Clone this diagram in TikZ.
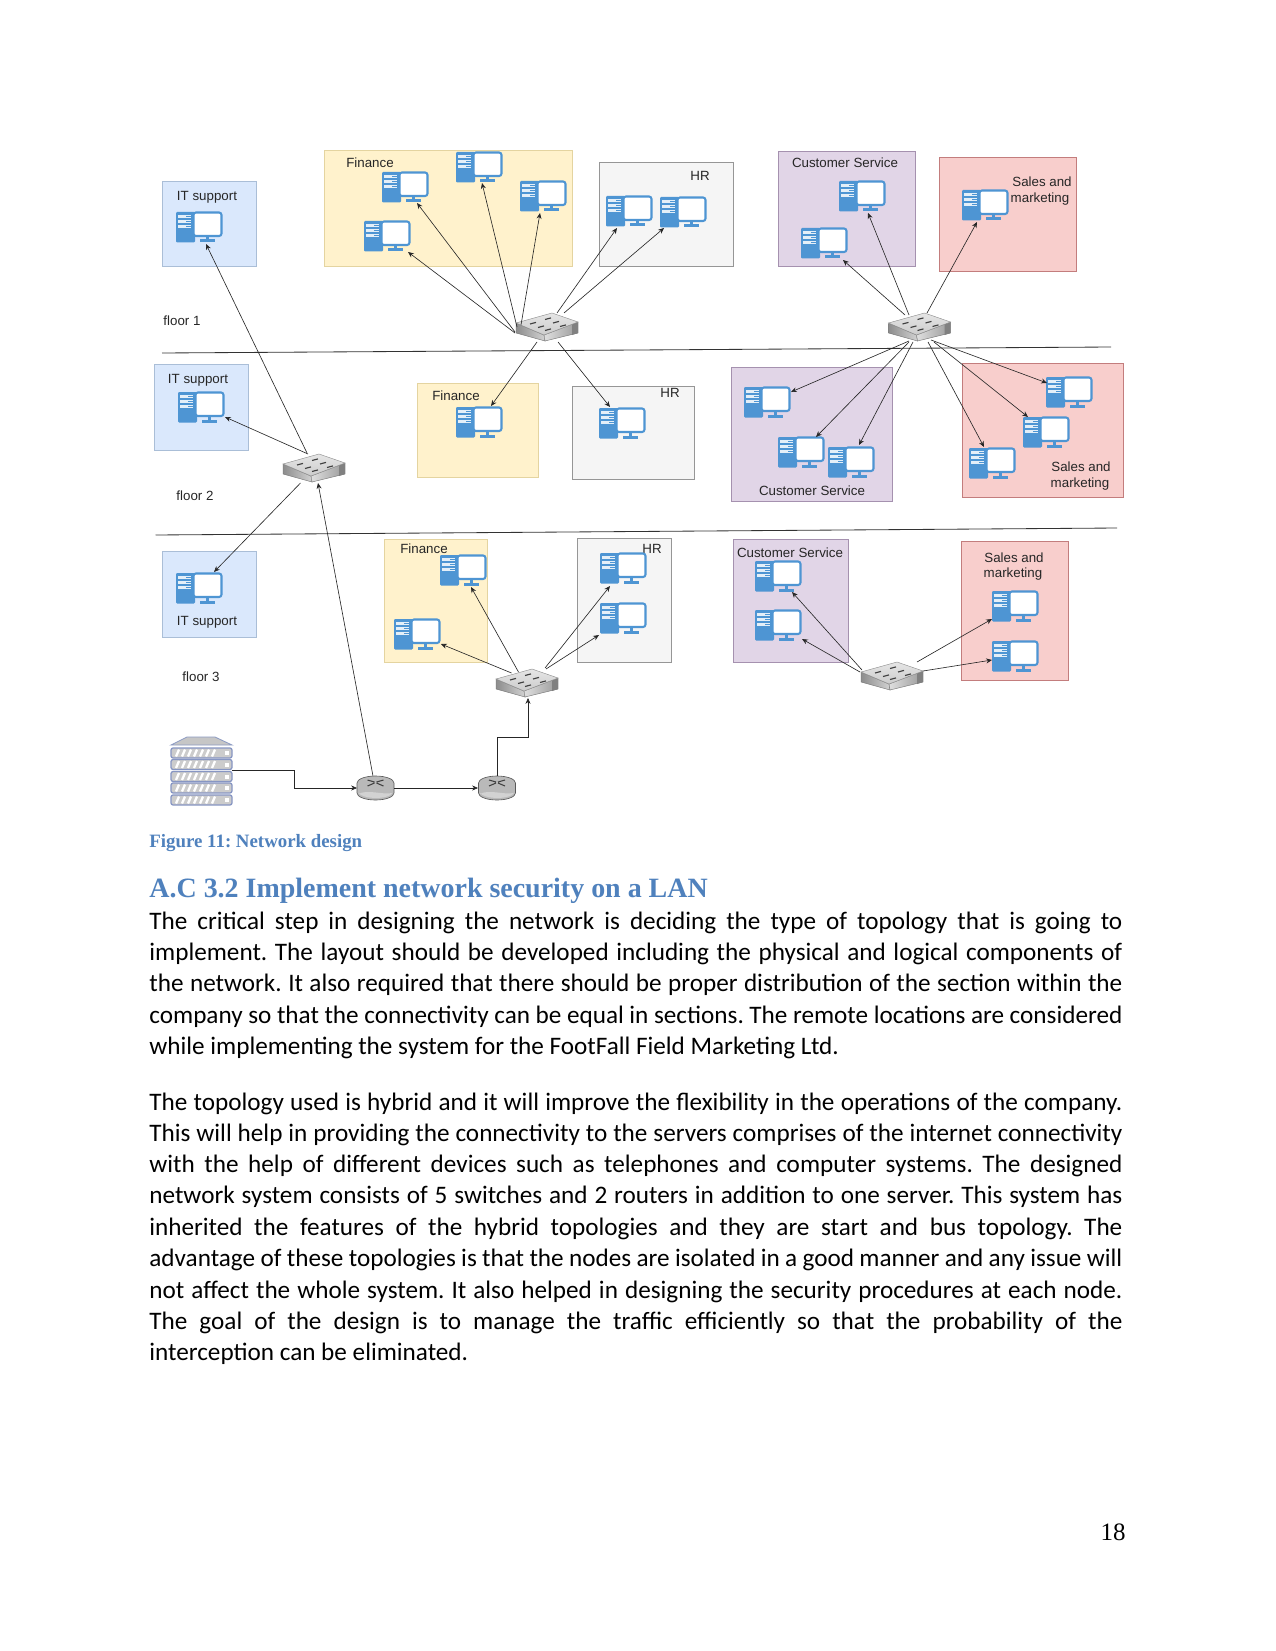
\documentclass[tikz,border=0pt]{standalone}
\usepackage{fontspec}
\setmainfont{Carlito}
\newfontfamily\lblfont{Liberation Sans}
\newfontfamily\serfont{Liberation Serif}
\usetikzlibrary{arrows.meta,calc}
\definecolor{icon}{HTML}{4E95D3}
\definecolor{capblue}{HTML}{4F81BD}
\tikzset{
  zone/.style={line width=0.35pt},
  bluezone/.style={zone,fill={rgb,255:red,218;green,232;blue,252},draw={rgb,255:red,170;green,190;blue,215}},
  yellowzone/.style={zone,fill={rgb,255:red,255;green,242;blue,204},draw={rgb,255:red,228;green,212;blue,160}},
  grayzone/.style={zone,fill={rgb,255:red,245;green,245;blue,245},draw={rgb,255:red,150;green,150;blue,150}},
  purplezone/.style={zone,fill={rgb,255:red,225;green,213;blue,231},draw={rgb,255:red,165;green,145;blue,175}},
  redzone/.style={zone,fill={rgb,255:red,248;green,206;blue,204},draw={rgb,255:red,195;green,125;blue,125}},
  lbl/.style={font=\lblfont\fontsize{6.4}{7.6}\selectfont,inner sep=0pt,text=black!85,align=center,yshift=-0.5pt},
  conn/.style={line width=0.3pt,draw=black!85,-{Stealth[length=2.8pt,width=2.4pt]}},
  floorline/.style={line width=0.4pt,draw=black!80},
  bodyline/.style={anchor=base west,inner sep=0pt,font=\fontsize{12.09}{14}\selectfont,text=black,execute at begin node=\frenchspacing},
  pc/.pic={
    \coordinate (-o) at (0,0);
    \fill[icon,rounded corners=0.5pt] (0,0) rectangle (19,30.5);
    \foreach \yy in {3,8,13}{
      \fill[white!85!icon] (2,\yy) rectangle (15,\yy+3.2);
      \fill[icon] (10,\yy+0.9) rectangle (15,\yy+2.2);
    }
    \draw[icon,fill=white,line width=1pt,rounded corners=1.2pt] (17.5,0.5) rectangle (45.5,24);
    \fill[icon] (30,24) rectangle (33,27.5);
    \fill[icon] (24,27.5) rectangle (39,30.5);
  },
  swt/.pic={
    \coordinate (-o) at (0,0);
    \shade[left color=gray!90,right color=gray!35,draw=black!55,line width=0.2pt] (-31,-4) -- (-3,8) -- (-2,14) -- (-31,6) -- cycle;
    \shade[left color=gray!25,right color=gray!80,draw=black!55,line width=0.2pt] (-3,8) -- (31,-5) -- (31,6) -- (-2,14) -- cycle;
    \fill[black!50] (25,-2.7) -- (31,-5) -- (31,6) -- (25,8) -- cycle;
    \shade[top color=gray!20,bottom color=gray!40,draw=black!45,line width=0.2pt] (-31,-4) -- (5,-14) -- (31,-5) -- (-3,8) -- cycle;
    \foreach \px/\py in {-17/-3,-2/-7.5,-9/0.5,6/-4,-2/3.5,13/-0.5}
      \draw[black!75,line width=0.55pt] (\px,\py) -- ++(6,-1.6);
  },
  router/.pic={
    \coordinate (-o) at (0,0);
    \fill[gray!55,draw=black!65,line width=0.3pt] (-18.5,-5) arc[x radius=18.5,y radius=7,start angle=180,end angle=360] -- (18.5,5) arc[x radius=18.5,y radius=7,start angle=0,end angle=180] -- cycle;
    \fill[gray!35] (-17,6) .. controls (-8,1) and (6,7) .. (17,5) arc[x radius=17,y radius=6,start angle=10,end angle=170] -- cycle;
    \draw[black!75,line width=0.5pt] (-8,-8) -- (-1,-6) (-8,-2) -- (-1,-5) (8,-8) -- (1,-6) (8,-2) -- (1,-5);
  },
  serverstack/.pic={
    \coordinate (-o) at (0,0);
    \fill[gray!45,draw={rgb,255:red,140;green,155;blue,195},line width=0.4pt] (0,8) -- (16,0) -- (44,0) -- (61,8) -- cycle;
    \foreach \ys in {11,22.5,34.5,46,58}{
      \draw[fill=gray!40,draw={rgb,255:red,135;green,150;blue,195},line width=0.6pt,rounded corners=1pt] (0,\ys) rectangle (61,\ys+10);
      \foreach \xs in {5,11,17,23,29,35,41}
        \draw[white,line width=1.1pt] (\xs,\ys+8.5) -- ++(3,-7);
      \fill[white] (54,\ys+3) rectangle (58,\ys+7);
    }
  },
}
\newcommand\lnk[4]{\draw[conn] ($(#1-o)+(#2)$) -- ($(#3-o)+(#4)$);}
\newcommand\just[3]{\node[bodyline] (#1) at (149,#2) {\hbox to 467.04pt{#3}};}
\newcommand\plainl[3]{\node[bodyline] (#1) at (149,#2) {#3};}
\begin{document}
\begin{tikzpicture}[x=0.48pt,y=-0.48pt]
\useasboundingbox (0,0) rectangle (1275,1651);
\fill[white] (0,0) rectangle (1275,1651);
% floor lines
\coordinate (fa) at (162,353); \coordinate (fb) at (1111,347);
\coordinate (fc) at (155.5,535); \coordinate (fd) at (1117,528);
\draw[floorline] (fa) -- (fb);
\draw[floorline] (fc) -- (fd);
% zones
\draw[bluezone]   (162,181) rectangle (256,266);
\draw[yellowzone] (324,150) rectangle (572,266);
\draw[grayzone]   (599,162) rectangle (733,266);
\draw[purplezone] (778,151) rectangle (915,266);
\draw[redzone]    (939,157) rectangle (1076,271);
\draw[bluezone]   (154,364) rectangle (248,450);
\draw[yellowzone] (417,383) rectangle (538,477);
\draw[grayzone]   (572,386) rectangle (694,479);
\draw[purplezone] (731,367) rectangle (892,501);
\draw[redzone]    (962,363) rectangle (1123,497);
\draw[bluezone]   (162,551) rectangle (256,637);
\draw[yellowzone] (384,539) rectangle (487,662);
\draw[grayzone]   (577,538) rectangle (671,662);
\draw[purplezone] (733,539) rectangle (848,662);
\draw[redzone]    (961,541) rectangle (1068,680);
% labels
\node[lbl] (t1)  at (207,196) {IT support};
\node[lbl] (t2)  at (370,162) {Finance};
\node[lbl] (t3)  at (700,175) {HR};
\node[lbl] (t4)  at (845,162) {Customer Service};
\node[lbl] (t5)  at (1042,181) {Sales and};
\node[lbl] (t6)  at (1040,198) {marketing};
\node[lbl] (t7)  at (182,320) {floor 1};
\node[lbl] (t8)  at (198,379) {IT support};
\node[lbl] (t9)  at (456,395) {Finance};
\node[lbl] (t10) at (670,392) {HR};
\node[lbl] (t11) at (812,490) {Customer Service};
\node[lbl] (t12) at (1081,466) {Sales and};
\node[lbl] (t13) at (1080,483) {marketing};
\node[lbl] (t14) at (195,495) {floor 2};
\node[lbl] (t15) at (424,548) {Finance};
\node[lbl] (t16) at (652,548) {HR};
\node[lbl] (t17) at (790,552) {Customer Service};
\node[lbl] (t18) at (1014,557) {Sales and};
\node[lbl] (t19) at (1013,573) {marketing};
\node[lbl] (t20) at (207,621) {IT support};
\node[lbl] (t21) at (201,676) {floor 3};
% computers
\pic (it1) at (176,212) {pc};
\pic (fa1) at (382,172) {pc};
\pic (fa2) at (456,152) {pc};
\pic (fa3) at (520,181) {pc};
\pic (fa4) at (364,221) {pc};
\pic (ha1) at (606,196) {pc};
\pic (ha2) at (660,197) {pc};
\pic (ca1) at (839,181) {pc};
\pic (ca2) at (801,228) {pc};
\pic (sa1) at (962,190) {pc};
\pic (it2) at (178,392) {pc};
\pic (fb1) at (456,407) {pc};
\pic (hb1) at (599,408) {pc};
\pic (cb1) at (744,387) {pc};
\pic (cb2) at (778,437) {pc};
\pic (cb3) at (828,447) {pc};
\pic (sb1) at (1046,377) {pc};
\pic (sb2) at (1023,417) {pc};
\pic (sb3) at (969,448) {pc};
\pic (it3) at (176,573) {pc};
\pic (fc1) at (440,555) {pc};
\pic (fc2) at (394,619) {pc};
\pic (hc1) at (600,553) {pc};
\pic (hc2) at (600,603) {pc};
\pic (cc1) at (755,561) {pc};
\pic (cc2) at (755,610) {pc};
\pic (sc1) at (992,591) {pc};
\pic (sc2) at (992,641) {pc};
% network devices
\pic (sw1) at (547,327) {swt};
\pic (sw2) at (919.5,327) {swt};
\pic (sw3) at (314,468) {swt};
\pic (sw4) at (527,683) {swt};
\pic (sw5) at (892,676) {swt};
\pic (r1) at (375.5,788) {router};
\pic (r2) at (497,788) {router};
\pic (srv) at (171,737) {serverstack};
% connectors
\lnk{sw1}{-32,6}{fa4}{44,31}
\lnk{sw1}{-32,5}{fa1}{35,31}
\lnk{sw1}{-30,0}{fa2}{26,31}
\lnk{sw1}{-26,-2}{fa3}{20,32}
\lnk{sw1}{10,-14}{ha1}{11,32}
\lnk{sw1}{17,-14}{ha2}{4,31}
\lnk{sw1}{11,15}{hb1}{11,-1}
\lnk{sw1}{-10,15}{fb1}{35,-1}
\lnk{sw2}{-10.5,-12}{ca1}{29,32}
\lnk{sw2}{-14.5,-12}{ca2}{42,32}
\lnk{sw2}{7.5,-14}{sa1}{15,32}
\lnk{sw2}{-10.5,14}{cb1}{47,5}
\lnk{sw2}{-10.5,15}{cb2}{38,0}
\lnk{sw2}{-6.5,15}{cb3}{31,-2}
\lnk{sw2}{11.5,13}{sb1}{1,6}
\lnk{sw2}{14.5,15}{sb2}{5,0}
\lnk{sw2}{8.5,15}{sb3}{15,-1}
\lnk{sw3}{-7,-15}{it1}{30,32}
\lnk{sw3}{-6,-14}{it2}{47,25}
\lnk{sw3}{-13.5,15}{it3}{38,-1}
\lnk{sw4}{-8.5,-11}{fc1}{31,32}
\lnk{sw4}{-15.5,-10}{fc2}{47,25}
\lnk{sw4}{18,-15}{hc1}{10,33}
\lnk{sw4}{19,-14}{hc2}{-1,32}
\lnk{sw5}{-30,-6}{cc1}{37,31}
\lnk{sw5}{-32,-4}{cc2}{47,29}
\lnk{sw5}{25,-14}{sc1}{0,28}
\lnk{sw5}{31,-5}{sc2}{0,19}
\lnk{r1}{-2.5,-12}{sw3}{4,15}
\lnk{r1}{18.5,0}{r2}{-19,0}
\draw[conn] ($(srv-o)+(61,33)$) -- ++(62,0) |- ($(r1-o)+(-18.5,0)$);
\draw[conn] ($(r2-o)+(0,-12)$) -- ++(0,-39) -- ++(31,0) -- ($(sw4-o)+(1,15)$);
% text
\node[anchor=base west,inner sep=0pt,text=capblue,font=\serfont\bfseries\fontsize{9.05}{11}\selectfont,execute at begin node=\frenchspacing] (cap) at (149,847) {Figure 11: Network design};
\node[anchor=base west,inner sep=0pt,text=capblue,font=\serfont\bfseries\fontsize{13.42}{16}\selectfont] (head) at (149,897) {A.C 3.2 Implement network security on a LAN};
\just{l1}{929}{The critical step in designing the network is deciding the type of topology that is going to}
\just{l2}{960}{implement. The layout should be developed including the physical and logical components of}
\just{l3}{991}{the network. It also required that there should be proper distribution of the section within the}
\just{l4}{1023}{company so that the connectivity can be equal in sections. The remote locations are considered}
\plainl{l5}{1054}{while implementing the system for the FootFall Field Marketing Ltd.}
\just{m1}{1110}{The topology used is hybrid and it will improve the flexibility in the operations of the company.}
\just{m2}{1141}{This will help in providing the connectivity to the servers comprises of the internet connectivity}
\just{m3}{1172}{with the help of different devices such as telephones and computer systems. The designed}
\just{m4}{1203}{network system consists of 5 switches and 2 routers in addition to one server. This system has}
\just{m5}{1235}{inherited the features of the hybrid topologies and they are start and bus topology. The}
\just{m6}{1266}{advantage of these topologies is that the nodes are isolated in a good manner and any issue will}
\just{m7}{1298}{not affect the whole system. It also helped in designing the security procedures at each node.}
\just{m8}{1329}{The goal of the design is to manage the traffic efficiently so that the probability of the}
\plainl{m9}{1360}{interception can be eliminated.}
\node[anchor=base,inner sep=0pt,font=\serfont\fontsize{12}{14}\selectfont] (pg) at (1113,1540) {18};
\end{tikzpicture}
\end{document}
